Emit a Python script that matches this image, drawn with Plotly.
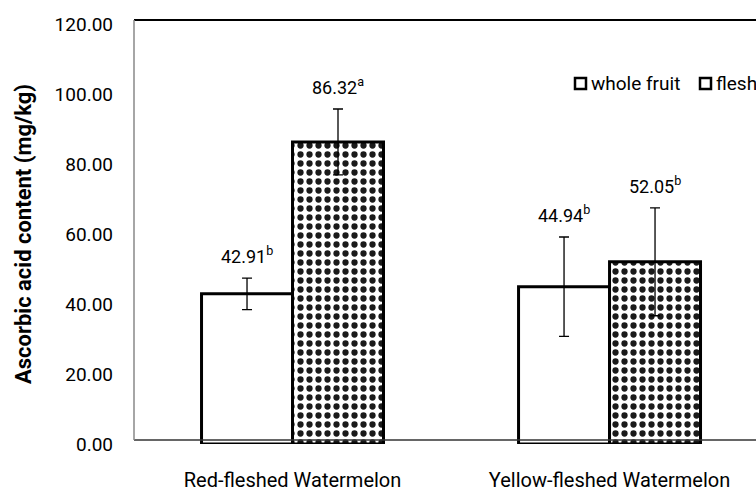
import plotly.graph_objects as go

categories = ["Red-fleshed Watermelon", "Yellow-fleshed Watermelon"]
whole_fruit = [42.91, 44.94]
whole_fruit_err = [4.5, 14.2]
flesh = [86.32, 52.05]
flesh_err = [9.4, 15.4]
whole_letters = ["b", "b"]
flesh_letters = ["a", "b"]
y_ticks = [0, 20, 40, 60, 80, 100, 120]

FONT = "Roboto, sans-serif"

W, H = 756, 491
L, T, B = 134, 24, 47
PW = W - L
PH = H - T - B

def px_x(px):
    return (px - L) / PW

def px_y(py):
    return (H - B - py) / PH

fig = go.Figure()
fig.add_trace(go.Bar(
    x=categories, y=whole_fruit, name="whole fruit",
    marker=dict(color="white", line=dict(color="black", width=3)),
    error_y=dict(type="data", array=whole_fruit_err, color="black", thickness=1.3, width=5),
    showlegend=False,
))
fig.add_trace(go.Bar(
    x=categories, y=flesh, name="flesh",
    marker=dict(color="white", line=dict(color="black", width=3),
                pattern=dict(shape=".", fgcolor="#1a1a1a", fgopacity=1, bgcolor="white",
                             size=9, solidity=0.38)),
    error_y=dict(type="data", array=flesh_err, color="black", thickness=1.3, width=5),
    showlegend=False,
))

# value labels
for i, c in enumerate(categories):
    fig.add_annotation(x=i, xshift=-45.5, y=whole_fruit[i] + whole_fruit_err[i], yshift=23,
                       text=f"{whole_fruit[i]:.2f}<sup>{whole_letters[i]}</sup>", showarrow=False,
                       font=dict(family=FONT, size=18, color="black"))
    fig.add_annotation(x=i, xshift=45.5, y=flesh[i] + flesh_err[i], yshift=23,
                       text=f"{flesh[i]:.2f}<sup>{flesh_letters[i]}</sup>", showarrow=False,
                       font=dict(family=FONT, size=18, color="black"))

# legend (manual)
for sx, label in [(575, "whole fruit"), (700, "flesh")]:
    fig.add_shape(type="rect", xref="paper", yref="paper",
                  x0=px_x(sx), x1=px_x(sx + 11), y0=px_y(89), y1=px_y(78),
                  line=dict(color="black", width=2.5), fillcolor="white")
    fig.add_annotation(xref="paper", yref="paper", x=px_x(sx + 14), y=px_y(83.5),
                       xanchor="left", yanchor="middle", text=label, showarrow=False,
                       font=dict(family=FONT, size=19, color="black"))

# frame lines
fig.add_shape(type="line", xref="paper", yref="paper", x0=0, x1=1, y0=px_y(20), y1=px_y(20),
              line=dict(color="black", width=2))
fig.add_shape(type="line", xref="paper", yref="paper", x0=0, x1=1, y0=px_y(440), y1=px_y(440),
              line=dict(color="#333", width=1.5), layer="above")
fig.add_shape(type="line", xref="paper", yref="paper", x0=0, x1=0, y0=px_y(440), y1=px_y(20),
              line=dict(color="#888", width=1.5))

fig.update_layout(
    width=W, height=H,
    margin=dict(l=L, r=0, t=T, b=B, pad=0, autoexpand=False),
    paper_bgcolor="white", plot_bgcolor="white",
    barmode="group", bargap=0.426, bargroupgap=0,
    font=dict(family=FONT, color="black"),
    xaxis=dict(range=[-0.5, 1.462], showline=False, showgrid=False, zeroline=False,
               automargin=False,
               ticks="", tickfont=dict(family=FONT, size=20), ticklabelstandoff=22),
    yaxis=dict(range=[0, 120], tickvals=y_ticks, tickformat=".2f", showline=False,
               automargin=False,
               showgrid=False, zeroline=False, ticks="", ticklabelstandoff=20,
               tickfont=dict(family=FONT, size=19),
               title=dict(text="<b>Ascorbic acid content (mg/kg)</b>", standoff=16,
                          font=dict(family=FONT, size=22))),
)

fig.write_html("out.html", config={"displayModeBar": False},
               post_script="document.body.style.margin='0px';")
